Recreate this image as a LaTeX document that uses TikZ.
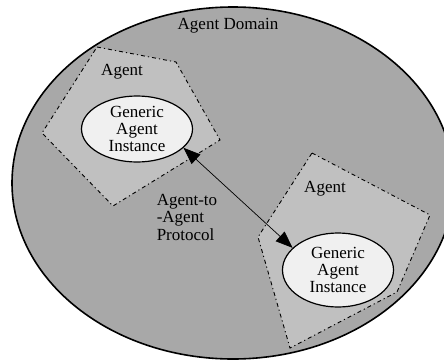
\documentclass[tikz,border=0pt]{standalone}
\usepackage{fontspec}
\setmainfont{Liberation Serif}
\usetikzlibrary{shapes.geometric,arrows.meta}
\definecolor{domaingray}{RGB}{168,168,168}
\definecolor{agentgray}{RGB}{192,192,192}
\definecolor{instfill}{RGB}{240,240,240}
\begin{document}
\begin{tikzpicture}[x=1pt,y=-1pt,
  lbl/.style={font=\fontsize{17}{17.5}\selectfont, inner sep=0},
  inst/.style={ellipse, draw, line width=1.2pt, fill=instfill, minimum width=111pt, minimum height=66pt, inner sep=0, align=center, font=\fontsize{17}{17}\selectfont},
  agentbox/.style={fill=agentgray, draw, line width=0.9pt, dash pattern=on 4pt off 3pt on 1.2pt off 3pt}
]
\useasboundingbox (0,0) rectangle (444,362);
\begin{scope}
\clip (0,0) rectangle (444,362);
\fill[white] (0,0) rectangle (444,362);
\draw[fill=domaingray, line width=1.6pt] (233,183) ellipse [x radius=221, y radius=176];
\end{scope}
\draw[agentbox] (97,47) -- (176,62) -- (220,140) -- (113,206) -- (42,133) -- cycle;
\draw[agentbox] (312,153) -- (430,215) -- (397,292) -- (290,348) -- (258,237) -- cycle;
\node[lbl] (dom) at (228,26) {Agent Domain};
\node[lbl] (ag1) at (122,72) {Agent};
\node[lbl] (ag2) at (325,189) {Agent};
\node[inst] (e1) at (137,129) {Generic\\Agent\\Instance};
\node[inst, minimum height=74pt] (e2) at (338,270) {Generic\\Agent\\Instance};
\node[lbl, align=left] (proto) at (187,217) {Agent-to\\-Agent\\Protocol};
\draw[{Triangle[length=17pt,width=13pt]}-{Triangle[length=17pt,width=13pt]}, line width=0.7pt] (e1.-22) -- (e2.154);
\end{tikzpicture}
\end{document}
